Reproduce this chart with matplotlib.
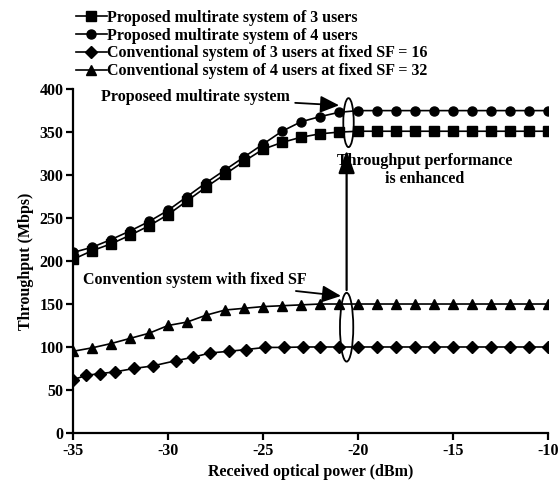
import numpy as np
import matplotlib.pyplot as plt
from matplotlib.patches import Ellipse

plt.rcParams['font.family'] = ['Liberation Serif', 'DejaVu Serif']
plt.rcParams['font.weight'] = 'bold'
plt.rcParams['axes.labelweight'] = 'bold'
plt.rcParams['axes.unicode_minus'] = False

# Received optical power (dBm)
power = np.arange(-35, -9, 1)
power_conv3 = [-35, -34.3, -33.6, -32.8, -31.8, -30.8, -29.6, -28.7, -27.8, -26.8,
               -25.9, -24.9, -23.9, -22.9, -22, -21, -20, -19, -18, -17, -16, -15,
               -14, -13, -12, -11, -10]

# Throughput (Mbps)
prop_3 = [202, 212, 220, 230, 241, 254, 270, 286, 301, 316, 330, 338, 344, 348, 350,
          351, 351, 351, 351, 351, 351, 351, 351, 351, 351, 351]
prop_4 = [210, 216, 225, 235, 246, 259, 275, 291, 306, 321, 336, 351, 362, 368, 373,
          375, 375, 375, 375, 375, 375, 375, 375, 375, 375, 375]
conv_3 = [62, 67, 69, 71, 75, 78, 84, 88, 93, 95, 97, 99.5, 99.5, 100, 100, 100, 100,
          100, 100, 100, 100, 100, 100, 100, 100, 100, 100]
conv_4 = [95, 99, 104, 110, 116, 125, 129, 137, 143, 145, 147, 148, 149, 150, 150, 150,
          150, 150, 150, 150, 150, 150, 150, 150, 150, 150]

labels = ['Proposed multirate system of 3 users',
          'Proposed multirate system of 4 users',
          'Conventional system of 3 users at fixed SF = 16',
          'Conventional system of 4 users at fixed SF = 32']

fs = 11.5

fig = plt.figure(figsize=(5.58, 4.87), dpi=100)
ax = fig.add_axes([0.131, 0.111, 0.851, 0.706])

lw = 1.2
ax.plot(power, prop_3, '-s', color='black', lw=lw, ms=6.5, label=labels[0])
ax.plot(power, prop_4, '-o', color='black', lw=lw, ms=6.5, label=labels[1])
ax.plot(power_conv3, conv_3, '-D', color='black', lw=lw, ms=6, label=labels[2])
ax.plot(power, conv_4, '-^', color='black', lw=lw, ms=7.5, label=labels[3])

ax.set_xlim(-35, -10)
ax.set_ylim(0, 400)
ax.set_xticks([-35, -30, -25, -20, -15, -10])
ax.set_yticks(np.arange(0, 401, 50))
for s in ['top', 'right']:
    ax.spines[s].set_visible(False)
for s in ['left', 'bottom']:
    ax.spines[s].set_linewidth(1.6)
ax.tick_params(direction='out', width=1.6, length=5, labelsize=fs, pad=2)
ax.set_xlabel('Received optical power (dBm)', fontsize=fs)
ax.set_ylabel('Throughput (Mbps)', fontsize=fs)

# ellipses around the saturated points
ax.add_patch(Ellipse((-20.5, 361), 0.55, 57, fill=False, lw=1.3, color='black'))
ax.add_patch(Ellipse((-20.6, 123), 0.7, 80, fill=False, lw=1.3, color='black'))

arrow = dict(arrowstyle='-|>,head_length=1.0,head_width=0.45', color='black', lw=1.3)
ax.annotate('Proposeed multirate system', xy=(-20.85, 381), xytext=(-23.6, 390.5),
            ha='right', va='center', fontsize=fs, arrowprops=arrow)
ax.annotate('Convention system with fixed SF', xy=(-20.75, 159), xytext=(-22.7, 178),
            ha='right', va='center', fontsize=fs, arrowprops=arrow)
ax.annotate('', xy=(-20.6, 332), xytext=(-20.6, 163),
            arrowprops=dict(arrowstyle='-|>,head_length=1.4,head_width=0.5',
                            color='black', lw=1.6))
ax.text(-16.5, 306, 'Throughput performance\nis enhanced', ha='center', va='center',
        fontsize=fs, linespacing=1.15)

fig.legend(loc='upper left', bbox_to_anchor=(0.128, 0.99), frameon=False,
           fontsize=fs, handlelength=1.9, handletextpad=0.05, labelspacing=0.12,
           borderaxespad=0.2, borderpad=0.1)

plt.savefig('out.png', dpi=100)
